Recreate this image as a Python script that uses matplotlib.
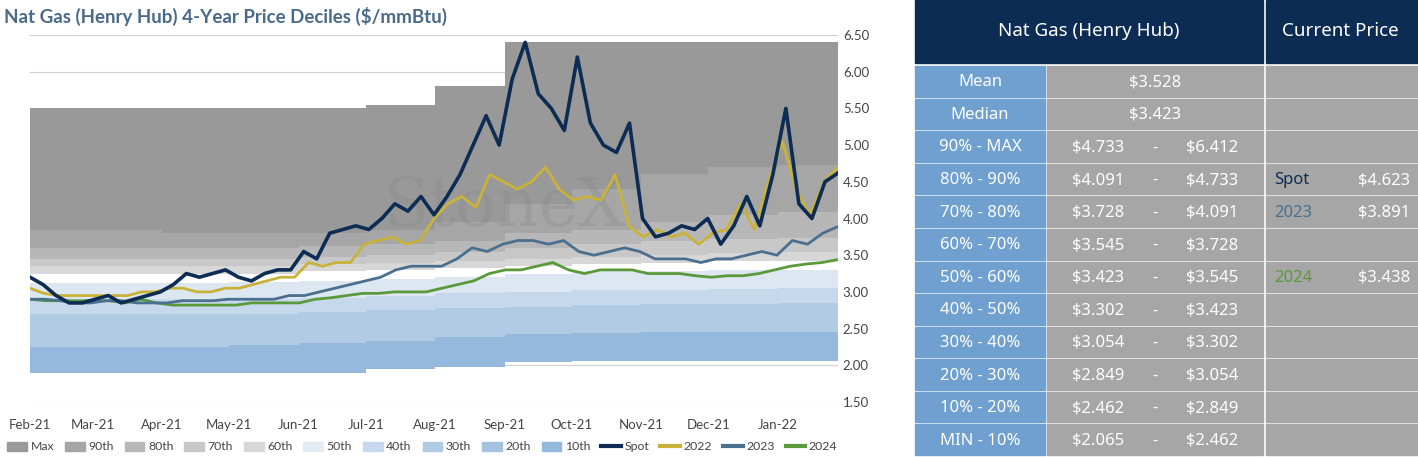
import matplotlib
matplotlib.use("Agg")
import matplotlib.pyplot as plt
from matplotlib.patches import Rectangle, Patch
from matplotlib.lines import Line2D
import matplotlib.dates as mdates
import numpy as np
import pandas as pd

plt.rcParams['font.family'] = ['Lato', 'DejaVu Sans']

START, END = "2021-02-01", "2022-01-28"

# band levels, one value per month (Feb-21 .. Jan-22, plus end)
months = pd.date_range("2021-02-01", periods=12, freq="MS").append(pd.DatetimeIndex([END]))
mx  = [5.5, 5.5, 5.5, 5.5, 5.5, 5.55, 5.8, 6.41, 6.41, 6.41, 6.41, 6.41]
p90 = [3.85, 3.85, 3.8, 3.8, 3.8, 3.85, 3.95, 4.2, 4.4, 4.6, 4.7, 4.73]
p80 = [3.6, 3.6, 3.6, 3.6, 3.62, 3.65, 3.7, 3.8, 3.85, 3.95, 4.05, 4.09]
p70 = [3.45, 3.45, 3.45, 3.45, 3.48, 3.5, 3.55, 3.6, 3.65, 3.7, 3.72, 3.73]
p60 = [3.35, 3.35, 3.35, 3.35, 3.38, 3.4, 3.42, 3.45, 3.48, 3.5, 3.53, 3.55]
p50 = [3.25, 3.25, 3.25, 3.25, 3.28, 3.3, 3.32, 3.35, 3.38, 3.4, 3.42, 3.42]
p40 = [3.12, 3.12, 3.12, 3.14, 3.15, 3.18, 3.2, 3.25, 3.28, 3.29, 3.3, 3.3]
p30 = [2.9, 2.9, 2.9, 2.9, 2.92, 2.95, 2.98, 3.0, 3.02, 3.03, 3.04, 3.05]
p20 = [2.7, 2.7, 2.7, 2.7, 2.72, 2.75, 2.78, 2.8, 2.82, 2.83, 2.84, 2.85]
p10 = [2.25, 2.25, 2.25, 2.28, 2.3, 2.33, 2.38, 2.42, 2.44, 2.45, 2.46, 2.46]
mn  = [1.9, 1.9, 1.9, 1.9, 1.9, 1.95, 1.98, 2.05, 2.065, 2.065, 2.065, 2.065]

spot = [3.2, 3.1, 2.95, 2.85, 2.85, 2.9, 2.95, 2.85, 2.9, 2.95, 3.0, 3.1, 3.25,
        3.2, 3.25, 3.3, 3.2, 3.15, 3.25, 3.3, 3.3, 3.55, 3.45, 3.8, 3.85, 3.9, 3.85, 4.0,
        4.2, 4.1, 4.3, 4.05, 4.3, 4.6, 5.0, 5.4, 5.0, 5.9, 6.4, 5.7, 5.5, 5.2, 6.2, 5.3,
        5.0, 4.9, 5.3, 4.0, 3.75, 3.8, 3.9, 3.85, 4.0, 3.65, 3.9, 4.3, 3.9, 4.6, 5.5,
        4.2, 4.0, 4.5, 4.62]
y2022 = [3.05, 2.98, 2.95, 2.95, 2.95, 2.95, 2.95, 2.95, 3.0, 3.0, 3.05, 3.05,
         3.0, 3.0, 3.05, 3.05, 3.1, 3.15, 3.2, 3.2, 3.4, 3.35, 3.4, 3.4,
         3.65, 3.7, 3.75, 3.65, 3.7, 4.0, 4.2, 4.3, 4.15, 4.6, 4.5, 4.4, 4.5, 4.7, 4.4, 4.25,
         4.3, 4.25, 4.6, 3.9, 3.75, 3.85, 3.75, 3.8, 3.65, 3.8, 3.85, 4.2, 3.85, 4.5, 5.05,
         4.4, 4.05, 4.5, 4.7]
y2023 = [2.9, 2.9, 2.88, 2.85, 2.85, 2.88, 2.88, 2.85, 2.85, 2.85, 2.88, 2.88,
         2.88, 2.9, 2.9, 2.9, 2.9, 2.95, 2.95, 3.0, 3.05, 3.1, 3.15, 3.2,
         3.3, 3.35, 3.35, 3.35, 3.45, 3.6, 3.55, 3.65, 3.7, 3.7, 3.65, 3.7, 3.55,
         3.5, 3.55, 3.6, 3.55, 3.45, 3.45, 3.45, 3.4, 3.45, 3.45, 3.5, 3.55, 3.5,
         3.7, 3.65, 3.8, 3.89]
y2024 = [2.9, 2.88, 2.88, 2.88, 2.88, 2.88, 2.85, 2.9, 2.85, 2.82, 2.82, 2.82,
         2.82, 2.82, 2.85, 2.85, 2.85, 2.85, 2.9, 2.92, 2.95, 2.98, 2.98, 3.0,
         3.0, 3.0, 3.05, 3.1, 3.15, 3.25, 3.3, 3.3, 3.35, 3.4, 3.3, 3.25,
         3.3, 3.3, 3.3, 3.25, 3.25, 3.25, 3.22, 3.2, 3.22, 3.22, 3.25, 3.3, 3.35,
         3.38, 3.4, 3.44]

row_labels = ["Mean", "Median", "90% - MAX", "80% - 90%", "70% - 80%", "60% - 70%",
              "50% - 60%", "40% - 50%", "30% - 40%", "20% - 30%", "10% - 20%", "MIN - 10%"]
row_lo = ["$3.528", "$3.423", "$4.733", "$4.091", "$3.728", "$3.545", "$3.423",
          "$3.302", "$3.054", "$2.849", "$2.462", "$2.065"]
row_hi = [None, None, "$6.412", "$4.733", "$4.091", "$3.728", "$3.545",
          "$3.423", "$3.302", "$3.054", "$2.849", "$2.462"]
current = {3: ("Spot", "$4.623", "#0d2c54"), 4: ("2023", "$3.891", "#4b6f8f"),
           6: ("2024", "$3.438", "#5a9a3a")}

fig = plt.figure(figsize=(14.18, 4.57), dpi=100)
ax = fig.add_axes([30 / 1418, 55 / 457, 808 / 1418, 367 / 457])

levels = [mx, p90, p80, p70, p60, p50, p40, p30, p20, p10, mn]
fills = ["#999999", "#a6a6a6", "#b7b7b7", "#c8c8c8", "#d7d7d7", "#ffffff",
         "#dce7f2", "#c6d9ec", "#b0cbe3", "#94b9dc"]
for top, bot, c in zip(levels[:-1], levels[1:], fills):
    ax.fill_between(months, top + [top[-1]], bot + [bot[-1]], step="post", color=c, lw=0)

ax.text(pd.Timestamp("2021-09-01"), 4.15, "StoneX", fontsize=48, color="#8a8a8a",
        alpha=0.35, family="DejaVu Serif", ha="center", va="center", zorder=2)

def dates(vals):
    return pd.date_range(START, END, periods=len(vals))

ax.plot(dates(y2024), y2024, color="#5a9a3a", lw=2, zorder=3)
ax.plot(dates(y2023), y2023, color="#4b6f8f", lw=2, zorder=3)
ax.plot(dates(y2022), y2022, color="#c9b23a", lw=2, zorder=4)
ax.plot(dates(spot), spot, color="#0d2c54", lw=2.6, zorder=5)

ax.set_ylim(1.5, 6.5)
ax.set_xlim(pd.Timestamp(START), pd.Timestamp(END))
ax.set_yticks(np.arange(1.5, 6.51, 0.5))
ax.yaxis.set_major_formatter(matplotlib.ticker.FormatStrFormatter("%.2f"))
ax.yaxis.tick_right()
ax.grid(axis="y", color="#d0d0d0", lw=0.8, zorder=0)
ax.set_axisbelow(True)
ax.xaxis.set_major_locator(mdates.MonthLocator())
ax.xaxis.set_major_formatter(mdates.DateFormatter("%b-%y"))
ax.tick_params(length=0, labelsize=9.5, colors="#444444")
ax.tick_params(axis="x", pad=12)
for s in ax.spines.values():
    s.set_visible(False)

fig.text(4 / 1418, 1 - 16 / 457, "Nat Gas (Henry Hub) 4-Year Price Deciles ($/mmBtu)",
         fontsize=13.5, fontweight="bold", color="#4a6a8a", va="center")

names = ["Max", "90th", "80th", "70th", "60th", "50th", "40th", "30th", "20th", "10th"]
leg_cols = ["#999999", "#a6a6a6", "#b7b7b7", "#c8c8c8", "#d7d7d7", "#e3ecf5",
            "#c6d9ec", "#b0cbe3", "#a3c3e0", "#94b9dc"]
handles = [Patch(color=c, label=n) for c, n in zip(leg_cols, names)]
handles += [Line2D([], [], color=c, lw=3, label=n) for c, n in
            [("#0d2c54", "Spot"), ("#c9b23a", "2022"), ("#4b6f8f", "2023"), ("#5a9a3a", "2024")]]
fig.legend(handles=handles, loc="center left", bbox_to_anchor=(0, 10 / 457), ncol=14,
           frameon=False, fontsize=8.8, handlelength=1.6, columnspacing=0.9,
           handletextpad=0.3, labelcolor="#444444", borderaxespad=0.2)

# table
tab = fig.add_axes([0, 0, 1, 1])
tab.set_xlim(0, 1418)
tab.set_ylim(457, 0)
tab.axis("off")
navy = "#0d2c54"
kw = dict(family=["Noto Sans", "DejaVu Sans"], fontweight="medium", va="center")
tab.add_patch(Rectangle((915, 0), 348, 63, color=navy))
tab.add_patch(Rectangle((1266, 0), 152, 63, color=navy))
tab.text(1089, 31, "Nat Gas (Henry Hub)", color="white", fontsize=13.5, ha="center", **kw)
tab.text(1340, 31, "Current Price", color="white", fontsize=13.5, ha="center", **kw)
y0, h = 66, 391 / 12
for i, lab in enumerate(row_labels):
    y = y0 + i * h
    tab.add_patch(Rectangle((915, y), 130, h - 2, color="#6fa0cf"))
    tab.add_patch(Rectangle((1047, y), 216, h - 2, color="#a6a6a6"))
    tab.add_patch(Rectangle((1266, y), 152, h - 2, color="#a6a6a6"))
    yc = y + h / 2
    tab.text(980, yc, lab, color="white", fontsize=12, ha="center", **kw)
    if row_hi[i] is None:
        tab.text(1155, yc, row_lo[i], color="white", fontsize=12, ha="center", **kw)
    else:
        tab.text(1098, yc, row_lo[i], color="white", fontsize=12, ha="center", **kw)
        tab.text(1155, yc, "-", color="white", fontsize=12, ha="center", **kw)
        tab.text(1212, yc, row_hi[i], color="white", fontsize=12, ha="center", **kw)
    if i in current:
        n, v, c = current[i]
        tab.text(1274, yc, n, color=c, fontsize=12, ha="left", **kw)
        tab.text(1410, yc, v, color="white", fontsize=12, ha="right", **kw)

fig.savefig("out.png", dpi=100)
